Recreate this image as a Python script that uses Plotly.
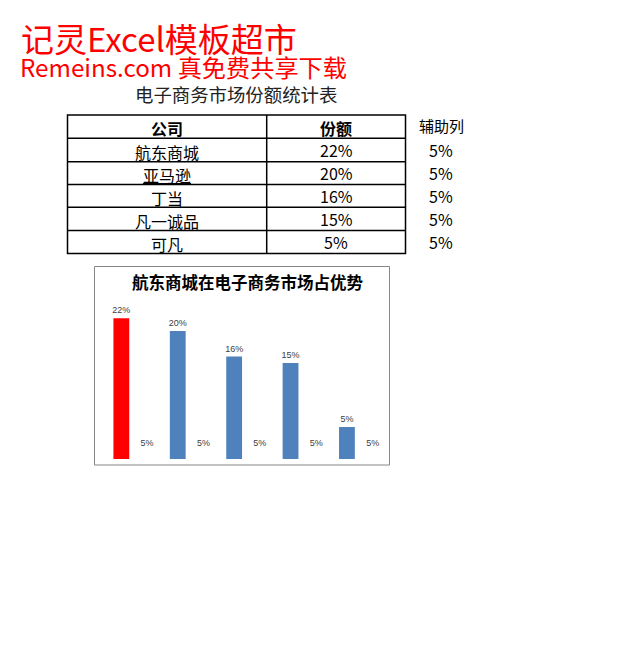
import plotly.graph_objects as go

# ---------------- data ----------------
companies = ["航东商城", "亚马逊", "丁当", "凡一诚品", "可凡"]
shares = [22, 20, 16, 15, 5]          # 份额 (%)
helper = [5, 5, 5, 5, 5]              # 辅助列 (%)
header = ["公司", "份额", "辅助列"]
title_main = "记灵Excel模板超市"
title_sub = "Remeins.com 真免费共享下载"
table_title = "电子商务市场份额统计表"
chart_title = "航东商城在电子商务市场占优势"

# page body has an 8px margin; figure sized to fit inside the window
OFF = 8
W, H = 618 - 2 * OFF, 656 - 2 * OFF
def px(x):
    return (x - OFF) / W
def py(y):
    return 1 - (y - OFF) / H

CJK = "Noto Sans CJK SC"
RED = "#ff0000"
BLUE = "#4f81bd"

bar_colors = [RED] + [BLUE] * (len(shares) - 1)

fig = go.Figure()
fig.add_trace(go.Bar(
    x=companies, y=shares,
    marker=dict(color=bar_colors, line=dict(width=0)),
    text=[f"{v}%" for v in shares],
    textposition="outside", textangle=0, constraintext="none", cliponaxis=False,
    textfont=dict(family="Liberation Sans", size=9, color="#404040"),
    hoverinfo="skip", showlegend=False,
))
fig.add_trace(go.Bar(
    x=companies, y=helper,
    marker=dict(color="rgba(0,0,0,0)", line=dict(width=0)),
    text=[f"{v}%" for v in helper],
    textposition="inside", insidetextanchor="middle", textangle=0, constraintext="none",
    textfont=dict(family="Liberation Sans", size=9, color="#404040"),
    hoverinfo="skip", showlegend=False,
))

# plot area geometry (pixels in the screenshot)
plot_left, plot_right = 106, 388
plot_bottom, plot_top = 459, 292.6
px_per_pct = 6.4

shapes = []
annotations = []

# chart border
shapes.append(dict(type="rect", xref="paper", yref="paper",
                   x0=px(94.5), x1=px(389.5), y0=py(465), y1=py(266.5),
                   line=dict(color="#868686", width=1), fillcolor="rgba(0,0,0,0)", layer="below"))

# table grid
tl, tr, tm = 67.5, 405.5, 266.7
row_y = [115, 138.3, 161.7, 184.5, 207.3, 230.5, 253.5]
shapes.append(dict(type="rect", xref="paper", yref="paper",
                   x0=px(tl), x1=px(tr), y0=py(row_y[-1]), y1=py(row_y[0]),
                   line=dict(color="#000000", width=1.5)))
for yy in row_y[1:-1]:
    shapes.append(dict(type="line", xref="paper", yref="paper",
                       x0=px(tl), x1=px(tr), y0=py(yy), y1=py(yy),
                       line=dict(color="#000000", width=1.5)))
shapes.append(dict(type="line", xref="paper", yref="paper",
                   x0=px(tm), x1=px(tm), y0=py(row_y[0]), y1=py(row_y[-1]),
                   line=dict(color="#000000", width=1.5)))

def ann(text, x, y, size, color="#000000", xanchor="center", bold=False, family=CJK):
    annotations.append(dict(
        text=f"<b>{text}</b>" if bold else text,
        x=px(x), y=py(y), xref="paper", yref="paper",
        xanchor=xanchor, yanchor="middle", showarrow=False, borderpad=0,
        font=dict(family=family, size=size, color=color),
    ))

ann(title_main, 20, 38, 33, RED, xanchor="left")
ann(title_sub, 19, 66.5, 24.2, RED, xanchor="left")
ann(table_title, 236, 94.5, 18.4, "#222222")

col_x = [167, 336, 441]
ann(header[0], col_x[0], 127.5, 16, bold=True)
ann(header[1], col_x[1], 127.5, 16, bold=True)
ann(header[2], col_x[2], 125.5, 15)

for i, (c, s, h) in enumerate(zip(companies, shares, helper)):
    yc = (row_y[i + 1] + row_y[i + 2]) / 2 + 1
    label = f"<span style='text-decoration:underline'>{c}</span>" if c == "亚马逊" else c
    ann(label, col_x[0], yc + 1, 16)
    ann(f"{s}%", col_x[1], yc - 1, 16)
    ann(f"{h}%", col_x[2], yc - 1, 16)

ann(chart_title, 248, 281.5, 16.5, bold=True)

fig.update_layout(
    width=W, height=H,
    margin=dict(l=0, r=0, t=0, b=0),
    paper_bgcolor="white", plot_bgcolor="white",
    barmode="group", bargap=0.088, bargroupgap=0.385,
    xaxis=dict(domain=[px(plot_left), px(plot_right)], visible=False, fixedrange=True),
    yaxis=dict(domain=[py(plot_bottom), py(plot_top)],
               range=[0, (plot_bottom - plot_top) / px_per_pct],
               visible=False, fixedrange=True),
    shapes=shapes, annotations=annotations,
    showlegend=False,
)

fig.write_html("out.html")
